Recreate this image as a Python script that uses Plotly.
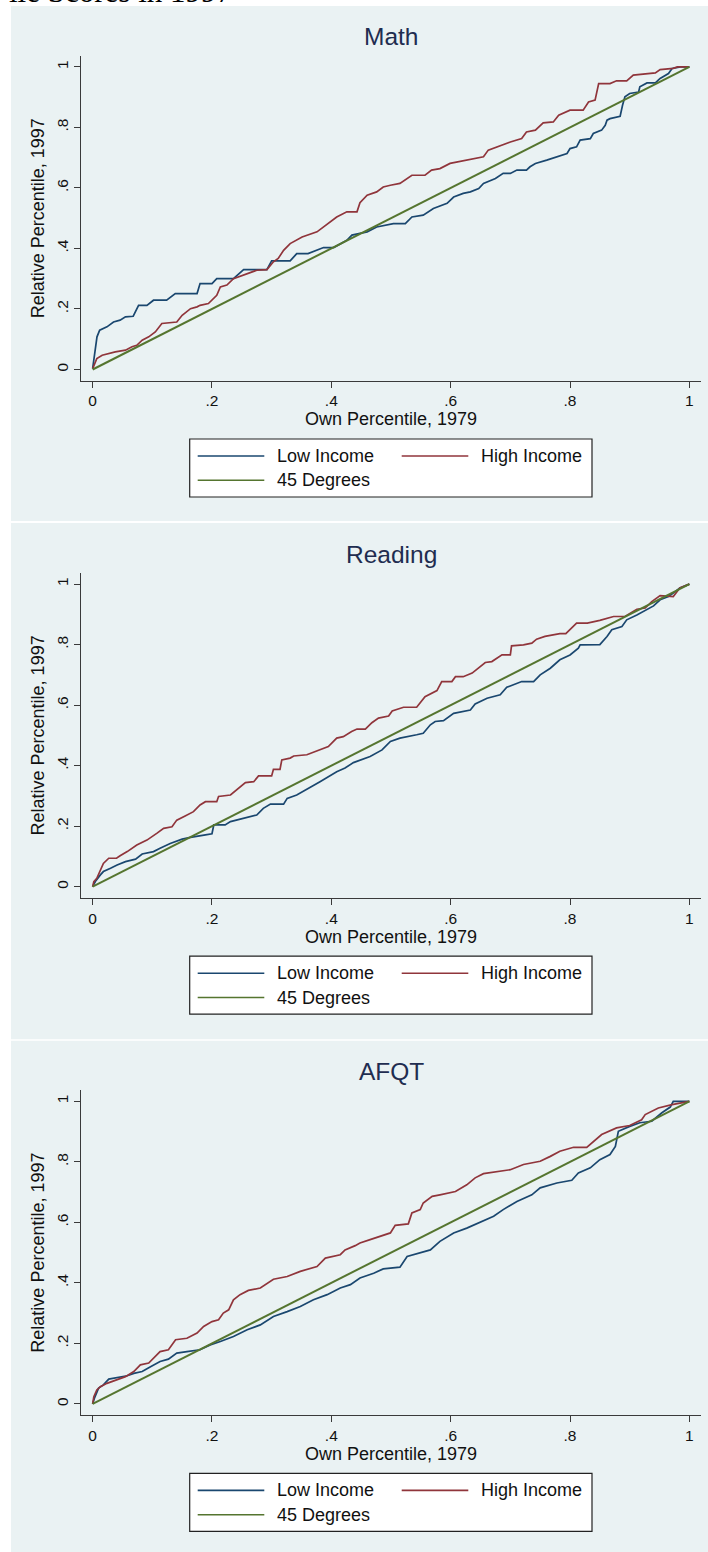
import plotly.graph_objects as go

W, H = 708, 1552

# ---------------- data ----------------
tick_vals = [0, 0.2, 0.4, 0.6, 0.8, 1]
tick_text = ["0", ".2", ".4", ".6", ".8", "1"]
panel_titles = ["Math", "Reading", "AFQT"]
series_names = ["Low Income", "High Income", "45 Degrees"]
diag_x = [0, 1]
diag_y = [0, 1]

math_low_x = [0, 0.0045, 0.0073, 0.0118, 0.024, 0.035, 0.046, 0.055, 0.068, 0.077, 0.091, 0.102, 0.124, 0.1385,
              0.175, 0.18, 0.2, 0.208, 0.236, 0.253, 0.292, 0.30, 0.331, 0.342, 0.361, 0.387, 0.404, 0.426, 0.4345,
              0.46, 0.476, 0.504, 0.524, 0.535, 0.554, 0.571, 0.594, 0.605, 0.621, 0.633, 0.647, 0.655, 0.675, 0.688,
              0.70, 0.711, 0.727, 0.733, 0.742, 0.761, 0.778, 0.795, 0.80, 0.811, 0.817, 0.834, 0.839, 0.853, 0.859,
              0.862, 0.867, 0.884, 0.888, 0.892, 0.90, 0.915, 0.917, 0.929, 0.943, 0.951, 0.965, 0.971, 0.985, 1.0]
math_low_y = [0.003, 0.064, 0.108, 0.13, 0.141, 0.157, 0.163, 0.174, 0.176, 0.212, 0.212, 0.229, 0.229, 0.251,
              0.251, 0.284, 0.284, 0.30, 0.30, 0.33, 0.33, 0.359, 0.359, 0.383, 0.383, 0.403, 0.403, 0.427, 0.444,
              0.455, 0.471, 0.482, 0.482, 0.504, 0.51, 0.532, 0.549, 0.570, 0.582, 0.587, 0.598, 0.615, 0.631, 0.648,
              0.648, 0.659, 0.659, 0.670, 0.681, 0.692, 0.703, 0.714, 0.730, 0.736, 0.758, 0.763, 0.780, 0.791, 0.807,
              0.824, 0.829, 0.837, 0.873, 0.901, 0.912, 0.917, 0.934, 0.947, 0.947, 0.962, 0.978, 0.995, 1.0, 1.0]
math_high_x = [0, 0.002, 0.007, 0.016, 0.027, 0.038, 0.055, 0.066, 0.074, 0.083, 0.094, 0.105, 0.116, 0.141, 0.15,
               0.164, 0.175, 0.18, 0.194, 0.208, 0.214, 0.225, 0.236, 0.253, 0.275, 0.292, 0.303, 0.311, 0.32, 0.331,
               0.351, 0.376, 0.39, 0.409, 0.426, 0.443, 0.448, 0.46, 0.476, 0.487, 0.499, 0.515, 0.535, 0.557, 0.568,
               0.582, 0.599, 0.638, 0.655, 0.663, 0.677, 0.70, 0.719, 0.727, 0.742, 0.755, 0.772, 0.781, 0.80, 0.822,
               0.831, 0.842, 0.848, 0.867, 0.878, 0.895, 0.906, 0.943, 0.951, 0.973, 0.98, 1.0]
math_high_y = [0.003, 0.014, 0.036, 0.047, 0.053, 0.058, 0.064, 0.075, 0.08, 0.097, 0.108, 0.124, 0.152, 0.157,
               0.179, 0.201, 0.207, 0.212, 0.218, 0.245, 0.273, 0.279, 0.30, 0.312, 0.328, 0.33, 0.356, 0.367, 0.394,
               0.416, 0.438, 0.455, 0.477, 0.504, 0.521, 0.521, 0.551, 0.576, 0.587, 0.603, 0.609, 0.615, 0.642, 0.642,
               0.659, 0.664, 0.681, 0.697, 0.703, 0.725, 0.736, 0.752, 0.763, 0.785, 0.791, 0.815, 0.818, 0.840, 0.857,
               0.857, 0.884, 0.890, 0.945, 0.945, 0.954, 0.954, 0.973, 0.980, 0.991, 0.995, 1.0, 1.0]

reading_low_x = [0, 0.0045, 0.013, 0.018, 0.03, 0.041, 0.055, 0.072, 0.083, 0.102, 0.113, 0.13, 0.15, 0.164, 0.189,
                 0.2, 0.203, 0.222, 0.231, 0.253, 0.275, 0.286, 0.298, 0.32, 0.326, 0.342, 0.351, 0.367, 0.381, 0.395,
                 0.409, 0.423, 0.437, 0.465, 0.485, 0.499, 0.515, 0.543, 0.554, 0.566, 0.574, 0.588, 0.605, 0.633,
                 0.641, 0.661, 0.683, 0.694, 0.719, 0.739, 0.75, 0.767, 0.783, 0.80, 0.814, 0.817, 0.85, 0.862, 0.87,
                 0.887, 0.895, 0.912, 0.929, 0.94, 0.951, 0.965, 0.973, 0.984, 1.0]
reading_low_y = [0, 0.017, 0.039, 0.05, 0.061, 0.072, 0.083, 0.091, 0.108, 0.116, 0.127, 0.143, 0.157, 0.163, 0.171,
                 0.175, 0.204, 0.204, 0.215, 0.226, 0.237, 0.259, 0.273, 0.273, 0.292, 0.303, 0.314, 0.331, 0.347,
                 0.364, 0.380, 0.392, 0.410, 0.430, 0.452, 0.480, 0.491, 0.502, 0.507, 0.535, 0.546, 0.549, 0.573,
                 0.584, 0.604, 0.623, 0.634, 0.659, 0.678, 0.678, 0.70, 0.722, 0.75, 0.766, 0.788, 0.799, 0.80, 0.827,
                 0.849, 0.86, 0.882, 0.898, 0.915, 0.928, 0.948, 0.959, 0.970, 0.987, 1.0]
reading_high_x = [0, 0.002, 0.007, 0.013, 0.018, 0.027, 0.04, 0.046, 0.058, 0.074, 0.091, 0.108, 0.119, 0.133, 0.141,
                  0.155, 0.169, 0.18, 0.189, 0.208, 0.211, 0.231, 0.247, 0.256, 0.27, 0.278, 0.30, 0.303, 0.314, 0.317,
                  0.331, 0.337, 0.359, 0.373, 0.395, 0.409, 0.42, 0.434, 0.443, 0.457, 0.468, 0.479, 0.496, 0.502,
                  0.521, 0.543, 0.557, 0.577, 0.585, 0.602, 0.608, 0.621, 0.636, 0.658, 0.669, 0.686, 0.70, 0.702,
                  0.722, 0.736, 0.744, 0.758, 0.783, 0.793, 0.811, 0.829, 0.850, 0.873, 0.892, 0.912, 0.926, 0.937,
                  0.951, 0.973, 0.984, 1.0]
reading_high_y = [0, 0.017, 0.028, 0.055, 0.077, 0.094, 0.094, 0.102, 0.116, 0.138, 0.154, 0.177, 0.193, 0.198, 0.22,
                  0.234, 0.248, 0.27, 0.281, 0.281, 0.298, 0.303, 0.331, 0.344, 0.347, 0.366, 0.366, 0.388, 0.388,
                  0.419, 0.425, 0.432, 0.436, 0.447, 0.463, 0.491, 0.496, 0.513, 0.521, 0.521, 0.542, 0.557, 0.564,
                  0.581, 0.593, 0.593, 0.628, 0.648, 0.678, 0.678, 0.694, 0.694, 0.706, 0.741, 0.744, 0.766, 0.766,
                  0.796, 0.799, 0.805, 0.818, 0.827, 0.836, 0.836, 0.871, 0.871, 0.880, 0.893, 0.893, 0.917, 0.921,
                  0.942, 0.962, 0.959, 0.987, 1.0]

afqt_low_x = [0, 0.003, 0.01, 0.018, 0.027, 0.041, 0.058, 0.069, 0.083, 0.097, 0.113, 0.127, 0.141, 0.158, 0.18,
              0.197, 0.214, 0.236, 0.259, 0.281, 0.303, 0.326, 0.348, 0.37, 0.393, 0.415, 0.432, 0.448, 0.471, 0.487,
              0.515, 0.527, 0.549, 0.566, 0.582, 0.605, 0.627, 0.649, 0.672, 0.688, 0.711, 0.736, 0.75, 0.778, 0.803,
              0.814, 0.834, 0.85, 0.867, 0.876, 0.881, 0.90, 0.917, 0.937, 0.954, 0.968, 0.973, 1.0]
afqt_low_y = [0, 0.019, 0.052, 0.063, 0.082, 0.088, 0.093, 0.101, 0.107, 0.123, 0.140, 0.148, 0.168, 0.173, 0.179,
              0.195, 0.206, 0.223, 0.245, 0.261, 0.289, 0.305, 0.322, 0.344, 0.361, 0.383, 0.394, 0.416, 0.432, 0.446,
              0.452, 0.487, 0.499, 0.509, 0.537, 0.565, 0.581, 0.60, 0.620, 0.642, 0.669, 0.691, 0.714, 0.730, 0.739,
              0.763, 0.78, 0.807, 0.824, 0.851, 0.901, 0.917, 0.929, 0.934, 0.962, 0.981, 1.0, 1.0]
afqt_high_x = [0, 0.002, 0.007, 0.013, 0.024, 0.038, 0.055, 0.069, 0.08, 0.094, 0.105, 0.113, 0.127, 0.139, 0.158,
               0.175, 0.186, 0.20, 0.211, 0.219, 0.228, 0.236, 0.247, 0.261, 0.281, 0.292, 0.303, 0.326, 0.348, 0.376,
               0.39, 0.415, 0.423, 0.44, 0.448, 0.465, 0.485, 0.499, 0.507, 0.529, 0.535, 0.549, 0.554, 0.569, 0.582,
               0.608, 0.627, 0.641, 0.655, 0.677, 0.70, 0.722, 0.75, 0.767, 0.783, 0.806, 0.828, 0.853, 0.878, 0.90,
               0.92, 0.926, 0.948, 0.971, 1.0]
afqt_high_y = [0, 0.024, 0.046, 0.057, 0.068, 0.079, 0.090, 0.107, 0.129, 0.135, 0.156, 0.173, 0.179, 0.212, 0.217,
               0.234, 0.256, 0.272, 0.278, 0.30, 0.311, 0.344, 0.361, 0.375, 0.383, 0.399, 0.412, 0.421, 0.438, 0.454,
               0.482, 0.493, 0.509, 0.523, 0.532, 0.543, 0.556, 0.565, 0.590, 0.595, 0.631, 0.642, 0.664, 0.686,
               0.691, 0.702, 0.724, 0.747, 0.761, 0.768, 0.774, 0.791, 0.802, 0.818, 0.835, 0.848, 0.848, 0.89, 0.912,
               0.92, 0.939, 0.956, 0.978, 0.989, 1.0]

# ---------------- style ----------------
BLUE = "#1a476f"
RED = "#90353b"
GREEN = "#55752f"
PANEL = "#eaf2f3"
AXIS = "#3a3a3a"
TITLE = "#1f2d50"
FONT = "Liberation Sans, Arial, sans-serif"

XL, XR = 81, 701          # plot area left/right (px)
TOP0 = 55.7               # plot area top of first panel (px)
STEP = 517.2              # vertical distance between panels (px)
PH = 325                  # plot area height (px)
panel_bounds = [(6, 521), (523, 1039.3), (1040.7, 1560)]


def fx(px):
    return px / W


def fy(px):
    return 1 - px / H


panels = [
    (math_low_x, math_low_y, math_high_x, math_high_y),
    (reading_low_x, reading_low_y, reading_high_x, reading_high_y),
    (afqt_low_x, afqt_low_y, afqt_high_x, afqt_high_y),
]

fig = go.Figure()
shapes = []
annotations = []
layout_axes = {}

for i, (lx, ly, hx, hy) in enumerate(panels):
    sfx = "" if i == 0 else str(i + 1)
    xa, ya = "x" + sfx, "y" + sfx
    top = TOP0 + STEP * i
    bot = top + PH
    off = STEP * i

    fig.add_trace(go.Scatter(x=lx, y=ly, mode="lines", name=series_names[0],
                             line=dict(color=BLUE, width=1.7), xaxis=xa, yaxis=ya, showlegend=False))
    fig.add_trace(go.Scatter(x=hx, y=hy, mode="lines", name=series_names[1],
                             line=dict(color=RED, width=1.7), xaxis=xa, yaxis=ya, showlegend=False))
    fig.add_trace(go.Scatter(x=diag_x, y=diag_y, mode="lines", name=series_names[2],
                             line=dict(color=GREEN, width=2), xaxis=xa, yaxis=ya, showlegend=False))

    layout_axes["xaxis" + sfx] = dict(
        domain=[fx(XL), fx(XR)], anchor=ya, range=[-0.0195, 1.0195],
        tickmode="array", tickvals=tick_vals, ticktext=tick_text,
        ticks="outside", ticklen=6, tickwidth=1.3, tickcolor=AXIS,
        showline=True, linecolor=AXIS, linewidth=1.3, showgrid=False, zeroline=False,
        tickfont=dict(family=FONT, size=15.5, color="#111"),
        title=dict(text="Own Percentile, 1979", font=dict(family=FONT, size=18, color="#111"), standoff=3),
        automargin=False, fixedrange=True,
    )
    layout_axes["yaxis" + sfx] = dict(
        domain=[fy(bot), fy(top)], anchor=xa, range=[-0.037, 1.037],
        tickmode="array", tickvals=tick_vals, ticktext=tick_text, tickangle=-90,
        ticks="outside", ticklen=6, tickwidth=1.3, tickcolor=AXIS,
        showline=True, linecolor=AXIS, linewidth=1.3,
        showgrid=True, gridcolor=PANEL, gridwidth=1.3, zeroline=False,
        tickfont=dict(family=FONT, size=15.5, color="#111"),
        title=dict(text="Relative Percentile, 1997", font=dict(family=FONT, size=18, color="#111"), standoff=4),
        automargin=False, fixedrange=True,
    )

    # panel background
    pt, pb = panel_bounds[i]
    shapes.append(dict(type="rect", xref="paper", yref="paper", x0=fx(11), x1=fx(712),
                       y0=fy(pb), y1=fy(pt), fillcolor=PANEL, line=dict(width=0), layer="below"))

    # panel title
    annotations.append(dict(text=panel_titles[i], xref="paper", yref="paper", x=fx((XL + XR) / 2),
                            y=fy(36.8 + off), xanchor="center", yanchor="middle", showarrow=False,
                            font=dict(family=FONT, size=24.5, color=TITLE)))

    # legend box (manual, Stata style)
    shapes.append(dict(type="rect", xref="paper", yref="paper", x0=fx(189.7), x1=fx(592),
                       y0=fy(497 + off), y1=fy(439 + off), fillcolor="white",
                       line=dict(color="#222", width=1.2), layer="above"))
    leg_items = [
        (series_names[0], BLUE, 197.7, 275.3, 456),
        (series_names[1], RED, 401.7, 479, 456),
        (series_names[2], GREEN, 197.7, 275.3, 480.3),
    ]
    for name, col, lx0, tx0, ty in leg_items:
        shapes.append(dict(type="line", xref="paper", yref="paper", x0=fx(lx0), x1=fx(lx0 + 66.6),
                           y0=fy(ty + off), y1=fy(ty + off), line=dict(color=col, width=1.6), layer="above"))
        annotations.append(dict(text=name, xref="paper", yref="paper", x=fx(tx0), y=fy(ty + off),
                                xanchor="left", yanchor="middle", showarrow=False,
                                font=dict(family=FONT, size=18, color="#111")))

# cut-off document caption at the very top
annotations.append(dict(text="ile Scores in 1997", xref="paper", yref="paper", x=fx(234), y=1 + 8.5 / H,
                        xanchor="right", yanchor="middle", showarrow=False,
                        font=dict(family="Liberation Serif, DejaVu Serif, serif", size=31, color="#000")))

fig.update_layout(
    width=W, height=H, margin=dict(l=0, r=0, t=0, b=0),
    paper_bgcolor="white", plot_bgcolor="white",
    showlegend=False, shapes=shapes, annotations=annotations,
    **layout_axes,
)

fig.write_html("out.html", config={"displayModeBar": False},
               post_script="document.body.style.margin='0px';document.body.style.overflow='hidden';")
